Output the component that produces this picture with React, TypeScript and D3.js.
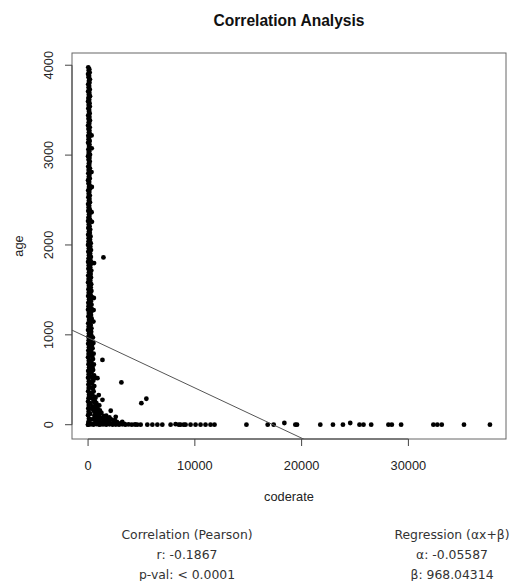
import React from 'react';
import * as d3 from 'd3';

// points are [coderate, age]
const stripLeft: [number, number][] = [
  [20, 3977], [60, 3941], [0, 3902], [45, 3866], [80, 3825], [15, 3788], [50, 3751], [5, 3709], [70, 3672], [30, 3634],
  [0, 3597], [55, 3558], [25, 3519], [85, 3483], [10, 3441], [40, 3404], [65, 3366], [0, 3329], [35, 3290], [75, 3252],
  [20, 3214], [50, 3177], [5, 3138], [90, 3101], [30, 3063], [60, 3024], [0, 2987], [45, 2949], [80, 2910], [15, 2872],
  [55, 2835], [25, 2797], [70, 2758], [0, 2721], [40, 2683], [85, 2644], [10, 2607], [60, 2569], [30, 2531], [75, 2492],
  [5, 2455], [50, 2417], [20, 2379], [90, 2341], [35, 2303], [0, 2266], [65, 2228], [25, 2190], [80, 2151], [10, 2114],
  [55, 2076], [40, 2038], [0, 2000], [70, 1962], [20, 1924], [85, 1886], [45, 1849], [5, 1811], [60, 1772], [30, 1735],
  [90, 1697], [15, 1659], [50, 1620], [0, 1583], [75, 1545], [35, 1507], [60, 1469], [10, 1431], [85, 1393], [25, 1356],
  [45, 1318], [0, 1280], [70, 1242], [30, 1204], [90, 1166], [15, 1128], [55, 1091], [0, 1053], [80, 1015], [35, 977],
  [60, 939], [10, 901], [85, 863], [25, 825], [50, 788], [0, 750], [70, 712], [40, 674], [90, 636], [15, 598],
  [55, 560], [0, 522], [75, 484], [30, 447], [60, 409], [10, 371], [85, 333], [40, 295], [0, 257], [65, 219],
  [20, 181], [50, 143], [0, 105], [80, 67], [30, 29], [0, 0],
];

const stripRight: [number, number][] = [
  [110, 3955], [150, 3918], [95, 3880], [170, 3843], [130, 3806], [100, 3768], [160, 3730], [120, 3692], [180, 3655], [105, 3616],
  [140, 3578], [165, 3540], [100, 3501], [150, 3464], [125, 3424], [175, 3386], [110, 3348], [155, 3309], [330, 3219], [130, 3271],
  [170, 3233], [100, 3195], [150, 3157], [120, 3120], [340, 3075], [160, 3082], [105, 3044], [180, 3005], [130, 2968], [155, 2930],
  [110, 2891], [170, 2853], [320, 2811], [125, 2778], [160, 2740], [100, 2702], [145, 2664], [350, 2645], [180, 2626], [115, 2588],
  [165, 2550], [130, 2512], [175, 2474], [105, 2436], [150, 2398], [330, 2364], [125, 2322], [170, 2285], [360, 2257], [140, 2209],
  [200, 2171], [160, 2133], [230, 2095], [180, 2057], [250, 2019], [210, 1981], [270, 1943], [190, 1905], [260, 1867], [220, 1829],
  [560, 1798], [380, 1800], [280, 1791], [200, 1753], [300, 1715], [240, 1677], [270, 1639], [210, 1601], [290, 1564], [250, 1526],
  [310, 1488], [230, 1450], [540, 1410], [360, 1418], [280, 1412], [260, 1374], [320, 1336], [520, 1276], [350, 1285], [240, 1298],
  [300, 1260], [270, 1222], [330, 1184], [500, 1147], [360, 1152], [250, 1109], [310, 1072], [290, 1034],
];

const stripLower: [number, number][] = [
  [300, 996], [450, 970], [260, 940], [500, 910], [350, 880], [420, 850], [280, 820], [520, 790], [380, 760], [460, 730],
  [300, 700], [540, 670], [400, 640], [470, 610], [320, 580], [560, 550], [879, 518], [650, 522], [420, 520], [490, 490],
  [350, 460], [580, 430], [440, 400], [520, 370], [380, 340], [620, 310], [460, 285], [540, 255], [700, 230], [420, 205],
  [650, 180], [500, 155], [780, 130], [600, 105], [900, 85], [480, 60], [700, 40], [850, 20], [550, 10], [1000, 5],
  [180, 980], [220, 905], [160, 845], [240, 775], [190, 715], [230, 655], [170, 595], [250, 535], [200, 475], [240, 415],
  [180, 355], [260, 300], [210, 240], [270, 180], [190, 120], [250, 60], [220, 15],
];

const lowCluster: [number, number][] = [
  [700, 150], [1000, 110], [1300, 70], [1600, 40], [900, 55], [1200, 25], [1900, 20], [2300, 10], [2700, 30], [3400, 8],
  [800, 200], [1100, 160], [1500, 95], [1800, 65], [2000, 35], [650, 260], [950, 120], [1400, 15], [2500, 50], [3000, 15],
  [750, 90], [1050, 45], [1250, 130], [850, 30], [1150, 80], [1700, 100], [2150, 60], [600, 75], [1450, 55], [2600, 12],
  [900, 175], [1200, 10], [1650, 12], [2000, 80], [780, 240], [1050, 215], [700, 300], [1000, 330], [2400, 25], [3200, 30],
];

const baseRow: [number, number][] = [
  [0, 0], [250, 4], [500, 0], [800, 6], [1100, 0], [1400, 3], [1700, 0], [2000, 5], [2300, 0], [2600, 2],
  [2900, 0], [3200, 4], [3500, 0], [3800, 3], [4100, 0], [4400, 2], [4600, 0], [4925, 0], [5550, 0], [6020, 0],
  [6490, 0], [6953, 0], [7729, 0], [8197, 6], [8500, 0], [8664, 0], [8970, 0], [9131, 0], [9599, 0], [10066, 0],
  [10533, 0], [11000, 0], [11468, 0], [11842, 0], [14832, 0], [16823, 0], [17384, 0], [18384, 19], [19412, 0], [19570, 0],
  [21748, 0], [22935, 0], [23870, 0], [24552, 19], [25421, 0], [25795, 0], [26515, 0], [28131, 0], [28449, 0], [29319, 0],
  [32338, 0], [32711, 0], [33123, 0], [35206, 0], [37636, 0],
];

const outliers: [number, number][] = [
  [1439, 1861], [1346, 721], [3121, 470], [4991, 240], [5458, 289], [2122, 155], [2589, 88], [1346, 277],
];

const xTicks = [0, 10000, 20000, 30000];
const yTicks = [0, 1000, 2000, 3000, 4000];

const alpha = -0.05587;
const beta = 968.04314;

const corrLines = ['Correlation (Pearson)', 'r: -0.1867', 'p-val: < 0.0001'];
const regLines = ['Regression (\u03b1x+\u03b2)', '\u03b1: -0.05587', '\u03b2: 968.04314'];

const W = 513;
const H = 581;
const box = { left: 72, right: 506, top: 53, bottom: 439 };

export default function App() {
  const points = [...stripLeft, ...stripRight, ...stripLower, ...lowCluster, ...baseRow, ...outliers];

  // R style axis range: data extent padded by 4%
  const [x0, x1] = d3.extent(points, (d) => d[0]) as [number, number];
  const [y0, y1] = d3.extent(points, (d) => d[1]) as [number, number];
  const px = (x1 - x0) * 0.04;
  const py = (y1 - y0) * 0.04;

  const x = d3.scaleLinear().domain([x0 - px, x1 + px]).range([box.left, box.right]);
  const y = d3.scaleLinear().domain([y0 - py, y1 + py]).range([box.bottom, box.top]);

  const [dx0, dx1] = x.domain();
  const line = d3
    .line<number>()
    .x((d) => x(d))
    .y((d) => y(alpha * d + beta));

  const sans = 'Liberation Sans, Arial, sans-serif';
  const cx = (box.left + box.right) / 2;
  const cy = (box.top + box.bottom) / 2;
  const statFont = 'DejaVu Sans, Verdana, sans-serif';

  return (
    <div style={{ position: 'absolute', left: 0, top: 0 }}>
      <svg width={W} height={H} style={{ display: 'block', background: '#fff' }}>
        <defs>
          <clipPath id="plot-clip">
            <rect x={box.left} y={box.top} width={box.right - box.left} height={box.bottom - box.top} />
          </clipPath>
        </defs>

        <text x={cx} y={26} textAnchor="middle" fontFamily={sans} fontWeight="bold" fontSize={15.6} fill="#111">
          Correlation Analysis
        </text>

        {/* points */}
        <g fill="#000">
          {points.map((d, i) => (
            <circle key={i} cx={x(d[0])} cy={y(d[1])} r={2.4} />
          ))}
        </g>

        {/* regression line */}
        <path
          d={line([dx0, dx1]) ?? ''}
          clipPath="url(#plot-clip)"
          fill="none"
          stroke="#555"
          strokeWidth={1}
        />

        <rect
          x={box.left}
          y={box.top}
          width={box.right - box.left}
          height={box.bottom - box.top}
          fill="none"
          stroke="#666"
          strokeWidth={1}
        />

        {/* x axis */}
        <g stroke="#444" strokeWidth={1}>
          <line x1={x(xTicks[0])} x2={x(xTicks[xTicks.length - 1])} y1={box.bottom} y2={box.bottom} />
          {xTicks.map((t) => (
            <line key={t} x1={x(t)} x2={x(t)} y1={box.bottom} y2={box.bottom + 7} />
          ))}
        </g>
        {xTicks.map((t) => (
          <text key={t} x={x(t)} y={470} textAnchor="middle" fontFamily={sans} fontSize={12.8} fill="#222">
            {t}
          </text>
        ))}
        <text x={cx} y={501} textAnchor="middle" fontFamily={sans} fontSize={12.8} fill="#222">
          coderate
        </text>

        {/* y axis */}
        <g stroke="#444" strokeWidth={1}>
          <line x1={box.left} x2={box.left} y1={y(yTicks[0])} y2={y(yTicks[yTicks.length - 1])} />
          {yTicks.map((t) => (
            <line key={t} x1={box.left - 7} x2={box.left} y1={y(t)} y2={y(t)} />
          ))}
        </g>
        {yTicks.map((t) => (
          <text
            key={t}
            transform={`translate(53,${y(t)}) rotate(-90)`}
            textAnchor="middle"
            fontFamily={sans}
            fontSize={12.8}
            fill="#222"
          >
            {t}
          </text>
        ))}
        <text
          transform={`translate(23,${cy}) rotate(-90)`}
          textAnchor="middle"
          fontFamily={sans}
          fontSize={12.8}
          fill="#222"
        >
          age
        </text>

        {/* summary text */}
        {corrLines.map((s, i) => (
          <text key={s} x={187} y={539 + i * 20} textAnchor="middle" fontFamily={statFont} fontSize={12.4} fill="#333">
            {s}
          </text>
        ))}
        {regLines.map((s, i) => (
          <text key={s} x={452} y={539 + i * 20} textAnchor="middle" fontFamily={statFont} fontSize={12.4} fill="#333">
            {s}
          </text>
        ))}
      </svg>
    </div>
  );
}
